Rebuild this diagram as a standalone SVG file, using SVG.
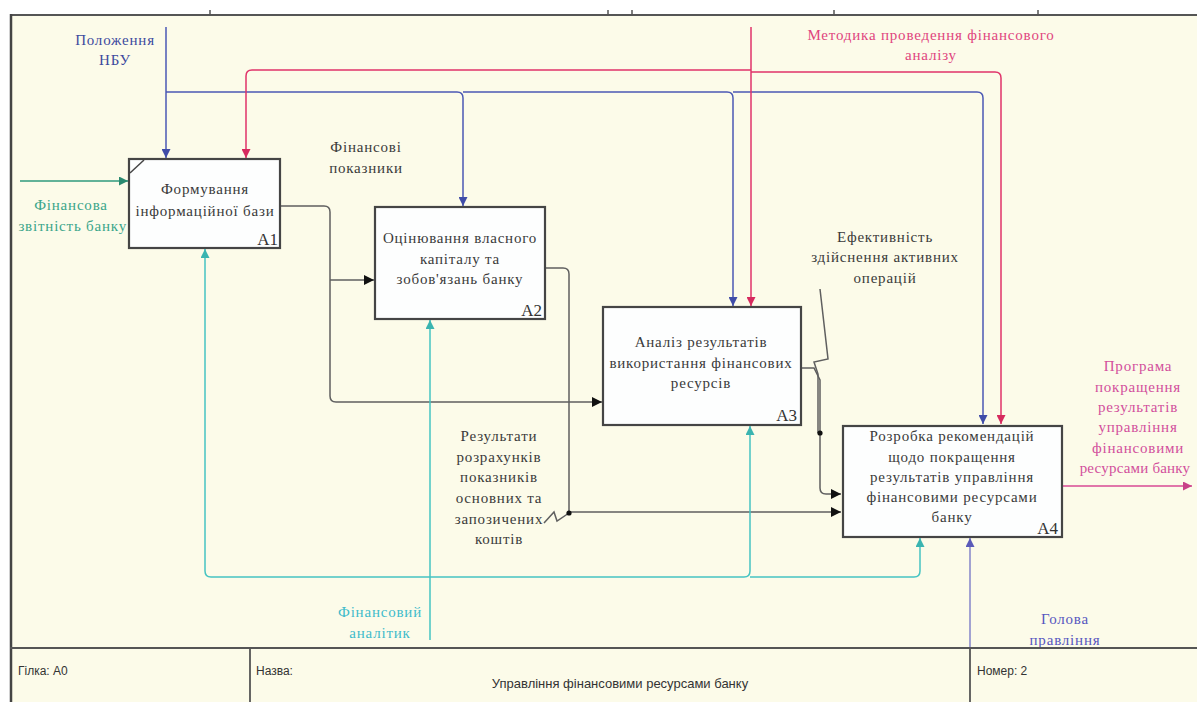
<svg xmlns="http://www.w3.org/2000/svg" width="1197" height="702" viewBox="0 0 1197 702">
<defs>
<style>
.box{fill:#fdfefe;stroke:#454545;stroke-width:2.2}
.t{font-family:"Liberation Serif","Times New Roman",serif;font-size:15px;letter-spacing:0.8px;fill:#3a3a3a;text-anchor:middle}
.id{font-family:"Liberation Serif",serif;font-size:17px;fill:#333;text-anchor:end}
.tb{font-family:"Liberation Sans",Arial,sans-serif;font-size:12px;fill:#333}
.c{fill:none;stroke-width:1.5}
.blue{stroke:#4b58b4}
.red{stroke:#e0336a}
.green{stroke:#2f9a7c}
.teal{stroke:#45c4c2}
.pink{stroke:#d84a94}
.grey{stroke:#5f5f5f}
.purple{stroke:#8484c8}
</style>
<marker id="aBlue" viewBox="0 0 10 10" refX="10" refY="5" markerWidth="9" markerHeight="9" markerUnits="userSpaceOnUse" orient="auto"><path d="M0,0 L10,5 L0,10 z" fill="#3f4ca8"/></marker>
<marker id="aRed" viewBox="0 0 10 10" refX="10" refY="5" markerWidth="9" markerHeight="9" markerUnits="userSpaceOnUse" orient="auto"><path d="M0,0 L10,5 L0,10 z" fill="#d62a5e"/></marker>
<marker id="aGreen" viewBox="0 0 10 10" refX="10" refY="5" markerWidth="9" markerHeight="9" markerUnits="userSpaceOnUse" orient="auto"><path d="M0,0 L10,5 L0,10 z" fill="#2a8a70"/></marker>
<marker id="aTeal" viewBox="0 0 10 10" refX="10" refY="5" markerWidth="9" markerHeight="9" markerUnits="userSpaceOnUse" orient="auto"><path d="M0,0 L10,5 L0,10 z" fill="#3ab4b0"/></marker>
<marker id="aPink" viewBox="0 0 10 10" refX="10" refY="5" markerWidth="9" markerHeight="9" markerUnits="userSpaceOnUse" orient="auto"><path d="M0,0 L10,5 L0,10 z" fill="#c84288"/></marker>
<marker id="aBlack" viewBox="0 0 10 10" refX="10" refY="5" markerWidth="10" markerHeight="10" markerUnits="userSpaceOnUse" orient="auto"><path d="M0,0 L10,5 L0,10 z" fill="#111"/></marker>
<marker id="aPurple" viewBox="0 0 10 10" refX="10" refY="5" markerWidth="9" markerHeight="9" markerUnits="userSpaceOnUse" orient="auto"><path d="M0,0 L10,5 L0,10 z" fill="#5a5ab8"/></marker>
</defs>

<rect x="0" y="0" width="1197" height="702" fill="#ffffff"/>
<rect x="11" y="15" width="1186" height="687" fill="#fcfbe9"/>

<g id="labels">
<text x="115" y="45" class="t" style="fill:#3d4a9e">Положення</text>
<text x="115" y="65" class="t" style="fill:#3d4a9e">НБУ</text>
<text x="931" y="40" class="t" style="fill:#e0457e">Методика проведення фінансового</text>
<text x="931" y="60" class="t" style="fill:#e0457e">аналізу</text>
<text x="366" y="152" class="t">Фінансові</text>
<text x="366" y="173" class="t">показники</text>
<text x="71" y="210" class="t" style="fill:#3aa58a">Фінансова</text>
<text x="127" y="231" class="t" style="fill:#3aa58a;text-anchor:end">звітність банку</text>
<text x="885" y="242" class="t">Ефективність</text>
<text x="885" y="262" class="t">здійснення активних</text>
<text x="885" y="283" class="t">операцій</text>
<text x="499" y="441" class="t">Результати</text>
<text x="499" y="462" class="t">розрахунків</text>
<text x="499" y="482" class="t">показників</text>
<text x="499" y="503" class="t">основних та</text>
<text x="499" y="524" class="t">запозичених</text>
<text x="499" y="544" class="t">коштів</text>
<text x="1138" y="371" class="t" style="fill:#d24f9c">Програма</text>
<text x="1138" y="392" class="t" style="fill:#d24f9c">покращення</text>
<text x="1138" y="412" class="t" style="fill:#d24f9c">результатів</text>
<text x="1138" y="432" class="t" style="fill:#d24f9c">управління</text>
<text x="1138" y="453" class="t" style="fill:#d24f9c">фінансовими</text>
<text x="1135" y="473" class="t" style="fill:#d24f9c;letter-spacing:0.2px">ресурсами банку</text>
<text x="380" y="617" class="t" style="fill:#3fbccb">Фінансовий</text>
<text x="380" y="638" class="t" style="fill:#3fbccb">аналітик</text>
<text x="1065" y="624" class="t" style="fill:#5656c0">Голова</text>
<text x="1065" y="645" class="t" style="fill:#5656c0">правління</text>
</g>

<g id="connectors">
<path class="c blue" d="M166,27 V158" marker-end="url(#aBlue)"/>
<path class="c blue" d="M166,92 H457 Q463,92 463,98 V206" marker-end="url(#aBlue)"/>
<path class="c blue" d="M463,92 H727 Q733,92 733,98 V306" marker-end="url(#aBlue)"/>
<path class="c blue" d="M733,92 H977 Q983,92 983,98 V424" marker-end="url(#aBlue)"/>
<path class="c red" d="M751,27 V306" marker-end="url(#aRed)"/>
<path class="c red" d="M751,70 H252 Q246,70 246,76 V158" marker-end="url(#aRed)"/>
<path class="c red" d="M751,72 H995 Q1001,72 1001,78 V424" marker-end="url(#aRed)"/>
<path class="c green" d="M20,181 H128" marker-end="url(#aGreen)"/>
<path class="c grey" d="M281,206 H324 Q330,206 330,212 V396 Q330,402 336,402 H602" marker-end="url(#aBlack)"/>
<path class="c grey" d="M330,280 H374" marker-end="url(#aBlack)"/>
<path class="c grey" d="M546,268 H563 Q569,268 569,274 V512 H841" marker-end="url(#aBlack)"/>
<path class="c grey" d="M544,523 L554,512 L557,521 L569,513" stroke-width="1"/>
<circle cx="569" cy="513" r="2.6" fill="#111"/>
<path class="c grey" d="M801,368 H814 L820,380 V488 Q820,494 826,494 H841" marker-end="url(#aBlack)"/>
<path class="c grey" d="M820,289 L828,359 L814,362 L818,374 V433" stroke-width="1"/>
<circle cx="820" cy="433" r="2.6" fill="#111"/>
<path class="c pink" d="M1063,486 H1192" marker-end="url(#aPink)"/>
<path class="c teal" d="M430,640 V320" marker-end="url(#aTeal)"/>
<path class="c teal" d="M430,577 H211 Q205,577 205,571 V249" marker-end="url(#aTeal)"/>
<path class="c teal" d="M430,577 H744 Q750,577 750,571 V426" marker-end="url(#aTeal)"/>
<path class="c teal" d="M750,577 H914 Q920,577 920,571 V538" marker-end="url(#aTeal)"/>
<path class="c purple" d="M970,648 V538" marker-end="url(#aPurple)"/>
</g>

<g id="A1">
<rect class="box" x="129" y="159" width="151" height="89"/>
<line x1="130" y1="173" x2="144" y2="160" stroke="#454545" stroke-width="1.5"/>
<text x="205" y="194" class="t">Формування</text>
<text x="205" y="216" class="t">інформаційної бази</text>
<text x="278" y="245" class="id">A1</text>
</g>
<g id="A2">
<rect class="box" x="375" y="207" width="170" height="112"/>
<text x="460" y="243" class="t">Оцінювання власного</text>
<text x="460" y="264" class="t">капіталу та</text>
<text x="460" y="284" class="t">зобов'язань банку</text>
<text x="542" y="316" class="id">A2</text>
</g>
<g id="A3">
<rect class="box" x="603" y="307" width="198" height="118"/>
<text x="701" y="347" class="t">Аналіз результатів</text>
<text x="701" y="368" class="t">використання фінансових</text>
<text x="701" y="388" class="t">ресурсів</text>
<text x="797" y="421" class="id">A3</text>
</g>
<g id="A4">
<rect class="box" x="843" y="426" width="219" height="111"/>
<text x="952" y="441" class="t">Розробка рекомендацій</text>
<text x="952" y="462" class="t">щодо покращення</text>
<text x="952" y="482" class="t">результатів управління</text>
<text x="952" y="502" class="t">фінансовими ресурсами</text>
<text x="952" y="522" class="t">банку</text>
<text x="1058" y="534" class="id">A4</text>
</g>

<g id="frame">
<rect x="0" y="0" width="10" height="702" fill="#ffffff"/>
<line x1="10" y1="15" x2="1197" y2="15" stroke="#555" stroke-width="2"/>
<line x1="11" y1="14" x2="11" y2="702" stroke="#444" stroke-width="2.5"/>
<g stroke="#555" stroke-width="1.5">
<line x1="210" y1="10" x2="210" y2="16"/>
<line x1="608" y1="10" x2="608" y2="16"/>
<line x1="632" y1="10" x2="632" y2="16"/>
<line x1="834" y1="10" x2="834" y2="16"/>
<line x1="1038" y1="10" x2="1038" y2="16"/>
</g>
<line x1="10" y1="648" x2="1197" y2="648" stroke="#555" stroke-width="2"/>
<line x1="250" y1="648" x2="250" y2="702" stroke="#555" stroke-width="1.8"/>
<line x1="970" y1="648" x2="970" y2="702" stroke="#555" stroke-width="1.8"/>
<text x="18" y="675" class="tb">Гілка: А0</text>
<text x="256" y="675" class="tb">Назва:</text>
<text x="620" y="688" class="tb" text-anchor="middle" style="font-size:13px">Управління фінансовими ресурсами банку</text>
<text x="977" y="675" class="tb">Номер: 2</text>
</g>
</svg>
